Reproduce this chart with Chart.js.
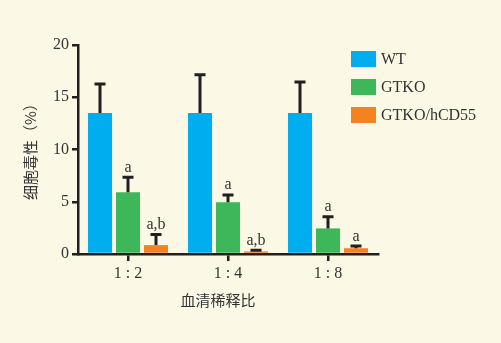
<!DOCTYPE html>
<html>
<head>
<meta charset="utf-8">
<script src="https://cdn.jsdelivr.net/npm/chart.js@4/dist/chart.umd.min.js"></script>
<style>
  html, body { margin: 0; padding: 0; background: #FBF8E6; }
  #wrap { width: 501px; height: 343px; }
</style>
</head>
<body>
<div id="wrap"><canvas id="cyto"></canvas></div>
<script>
(function() {
  'use strict';

  // 数据：三个稀释比，每组三种细胞
  const dilutions = ['1 : 2', '1 : 4', '1 : 8'];
  const seriesNames = ['WT', 'GTKO', 'GTKO/hCD55'];
  const wtMean = [13.5, 13.5, 13.5];
  const wtSd = [2.9, 3.8, 3.1];
  const gtkoMean = [5.9, 4.95, 2.45];
  const gtkoSd = [1.6, 0.85, 1.25];
  const hcdMean = [0.85, 0.25, 0.55];
  const hcdSd = [1.15, 0.25, 0.35];
  const gtkoMarks = ['a', 'a', 'a'];
  const hcdMarks = ['a,b', 'a,b', 'a'];
  const yTicks = [0, 5, 10, 15, 20];

  const INK = '#231F20';
  const TXT = '#333333';
  const SERIF = '"Liberation Serif", "DejaVu Serif", serif';
  const CJK = '"Noto Sans CJK SC", sans-serif';
  const colors = ['#00AEEF', '#3DB75A', '#F58220'];

  const means = [wtMean, gtkoMean, hcdMean];
  const sds = [wtSd, gtkoSd, hcdSd];
  const marks = [null, gtkoMarks, hcdMarks];

  // 误差线 + 显著性标记 + 图例 + 坐标轴标题
  const extras = {
    id: 'extras',
    afterDatasetsDraw(chart) {
      const { ctx, scales: { y } } = chart;
      ctx.save();
      means.forEach((arr, di) => {
        const meta = chart.getDatasetMeta(di);
        meta.data.forEach((bar, i) => {
          const x = bar.x;
          const yTop = y.getPixelForValue(arr[i]);
          const yErr = y.getPixelForValue(arr[i] + sds[di][i]);
          ctx.strokeStyle = INK;
          ctx.lineWidth = 3;
          ctx.lineCap = 'butt';
          ctx.beginPath();
          ctx.moveTo(x, yTop);
          ctx.lineTo(x, yErr);
          ctx.moveTo(x - 5.5, yErr + 1.5);
          ctx.lineTo(x + 5.5, yErr + 1.5);
          ctx.stroke();
          if (marks[di]) {
            ctx.fillStyle = TXT;
            ctx.font = '16px ' + SERIF;
            ctx.textAlign = 'center';
            ctx.textBaseline = 'alphabetic';
            ctx.fillText(marks[di][i], x, yErr - 4);
          }
        });
      });

      // 图例
      ctx.textAlign = 'left';
      ctx.textBaseline = 'middle';
      ctx.font = '16px ' + SERIF;
      seriesNames.forEach((name, i) => {
        const cy = 59 + i * 28;
        ctx.fillStyle = colors[i];
        ctx.fillRect(351, cy - 8, 25, 16);
        ctx.fillStyle = TXT;
        ctx.fillText(name, 381, cy + 1);
      });

      // 轴标题
      ctx.font = '15px ' + CJK;
      ctx.textAlign = 'center';
      ctx.fillText('血清稀释比', 218, 300);
      ctx.save();
      ctx.translate(30, 148);
      ctx.rotate(-Math.PI / 2);
      ctx.fillText('细胞毒性（%）', 0, 0);
      ctx.restore();
      ctx.restore();
    }
  };

  new Chart(document.getElementById('cyto'), {
    type: 'bar',
    data: {
      labels: dilutions,
      datasets: seriesNames.map((name, i) => ({
        label: name,
        data: means[i],
        backgroundColor: colors[i],
        borderWidth: 0,
        categoryPercentage: 0.84,
        barPercentage: 0.86
      }))
    },
    options: {
      responsive: true,
      maintainAspectRatio: false,
      animation: false,
      layout: { padding: { left: 0, top: 45, right: 123, bottom: 0 } },
      plugins: { legend: { display: false }, tooltip: { enabled: false } },
      scales: {
        x: {
          grid: {
            offset: false, drawOnChartArea: false, drawTicks: true,
            tickLength: 7, color: INK, lineWidth: 2.5
          },
          border: { color: INK, width: 2.5 },
          ticks: { color: TXT, font: { family: SERIF, size: 16 }, padding: 3 },
          afterFit: s => { s.height = 343 - 254; }
        },
        y: {
          min: 0,
          max: 20,
          afterBuildTicks: s => { s.ticks = yTicks.map(v => ({ value: v })); },
          grid: {
            drawOnChartArea: false, drawTicks: true,
            tickLength: 6, color: INK, lineWidth: 2.5
          },
          border: { color: INK, width: 2.5 },
          ticks: { color: TXT, font: { family: SERIF, size: 16 }, padding: 3 },
          afterFit: s => { s.width = 78; }
        }
      }
    },
    plugins: [extras]
  });
})();
</script>
</body>
</html>
